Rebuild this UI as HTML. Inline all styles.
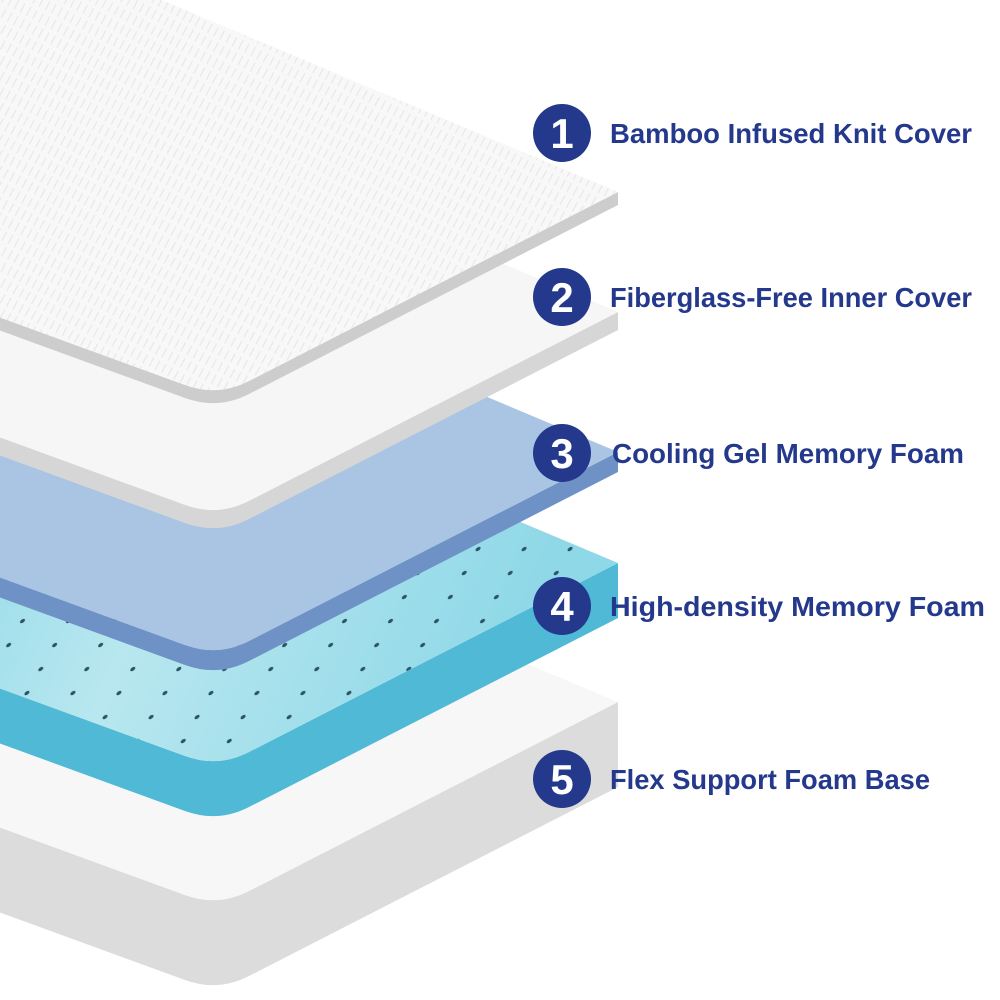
<!DOCTYPE html>
<html><head><meta charset="utf-8"><style>
html,body{margin:0;padding:0;background:#fff;width:1000px;height:1000px;overflow:hidden}
svg{display:block}
.lab{font-family:"Liberation Sans",sans-serif;font-weight:bold;font-size:28px;fill:#24398c}
.num{font-family:"Liberation Sans",sans-serif;font-weight:bold;font-size:42px;fill:#fff}
</style></head><body>
<svg width="1000" height="1000" viewBox="0 0 1000 1000" xmlns="http://www.w3.org/2000/svg">
<defs>
<pattern id="knit" width="14" height="7" patternUnits="userSpaceOnUse" patternTransform="rotate(-62)">
<rect width="14" height="7" fill="#f8f8f8"/><line x1="0" y1="3.5" x2="10" y2="3.5" stroke="#e8e8e8" stroke-width="1.2"/>
</pattern>
<pattern id="dots" width="46" height="24" patternUnits="userSpaceOnUse" patternTransform="skewX(-30)">
<circle cx="10" cy="10" r="2.2" fill="#2d5566"/>
</pattern>
<linearGradient id="aq" x1="0" y1="0" x2="1" y2="0.3">
<stop offset="0" stop-color="#7fd3e6"/><stop offset="0.5" stop-color="#b8e7ef"/><stop offset="1" stop-color="#8fd8e8"/>
</linearGradient>
</defs>

<g transform="translate(0,702)">
<path d="M618,0 L618,85 L249,274 Q218,290 185,278 L-100,174 L-100,89 L185,193 Q218,205 249,189 Z" fill="#dcdcdc"/>
<path d="M-100,-302 L618,0 L249,189 Q218,205 185,193 L-100,89 Z" fill="#f7f7f7"/>
</g>
<g transform="translate(0,563)">
<path d="M618,0 L618,55 L249,244 Q218,260 185,248 L-100,144 L-100,89 L185,193 Q218,205 249,189 Z" fill="#4fb9d6"/>
<path d="M-100,-302 L618,0 L249,189 Q218,205 185,193 L-100,89 Z" fill="url(#aq)"/>
<path d="M-100,-302 L618,0 L249,189 Q218,205 185,193 L-100,89 Z" fill="url(#dots)"/>
</g>
<g transform="translate(0,452)">
<path d="M618,0 L618,20 L249,209 Q218,225 185,213 L-100,109 L-100,89 L185,193 Q218,205 249,189 Z" fill="#6f92c6"/>
<path d="M-100,-302 L618,0 L249,189 Q218,205 185,193 L-100,89 Z" fill="#aac5e3"/>
</g>
<g transform="translate(0,312)">
<path d="M618,0 L618,18 L249,207 Q218,223 185,211 L-100,107 L-100,89 L185,193 Q218,205 249,189 Z" fill="#d6d6d6"/>
<path d="M-100,-302 L618,0 L249,189 Q218,205 185,193 L-100,89 Z" fill="#f6f6f6"/>
</g>
<g transform="translate(0,192)">
<path d="M618,0 L618,13 L249,202 Q218,218 185,206 L-100,102 L-100,89 L185,193 Q218,205 249,189 Z" fill="#cdcdcd"/>
<path d="M-100,-302 L618,0 L249,189 Q218,205 185,193 L-100,89 Z" fill="url(#knit)"/>
</g>

<g>
<circle cx="562" cy="133" r="29" fill="#24398c"/><text class="num" x="562" y="148" text-anchor="middle">1</text>
<text class="lab" x="610" y="143" textLength="362" lengthAdjust="spacingAndGlyphs">Bamboo Infused Knit Cover</text>
<circle cx="562" cy="297" r="29" fill="#24398c"/><text class="num" x="562" y="312" text-anchor="middle">2</text>
<text class="lab" x="610" y="307" textLength="362" lengthAdjust="spacingAndGlyphs">Fiberglass-Free Inner Cover</text>
<circle cx="562" cy="453" r="29" fill="#24398c"/><text class="num" x="562" y="468" text-anchor="middle">3</text>
<text class="lab" x="612" y="463" textLength="352" lengthAdjust="spacingAndGlyphs">Cooling Gel Memory Foam</text>
<circle cx="562" cy="606" r="29" fill="#24398c"/><text class="num" x="562" y="621" text-anchor="middle">4</text>
<text class="lab" x="610" y="616" textLength="375" lengthAdjust="spacingAndGlyphs">High-density Memory Foam</text>
<circle cx="562" cy="779" r="29" fill="#24398c"/><text class="num" x="562" y="794" text-anchor="middle">5</text>
<text class="lab" x="610" y="789" textLength="320" lengthAdjust="spacingAndGlyphs">Flex Support Foam Base</text>
</g>
</svg>
</body></html>
